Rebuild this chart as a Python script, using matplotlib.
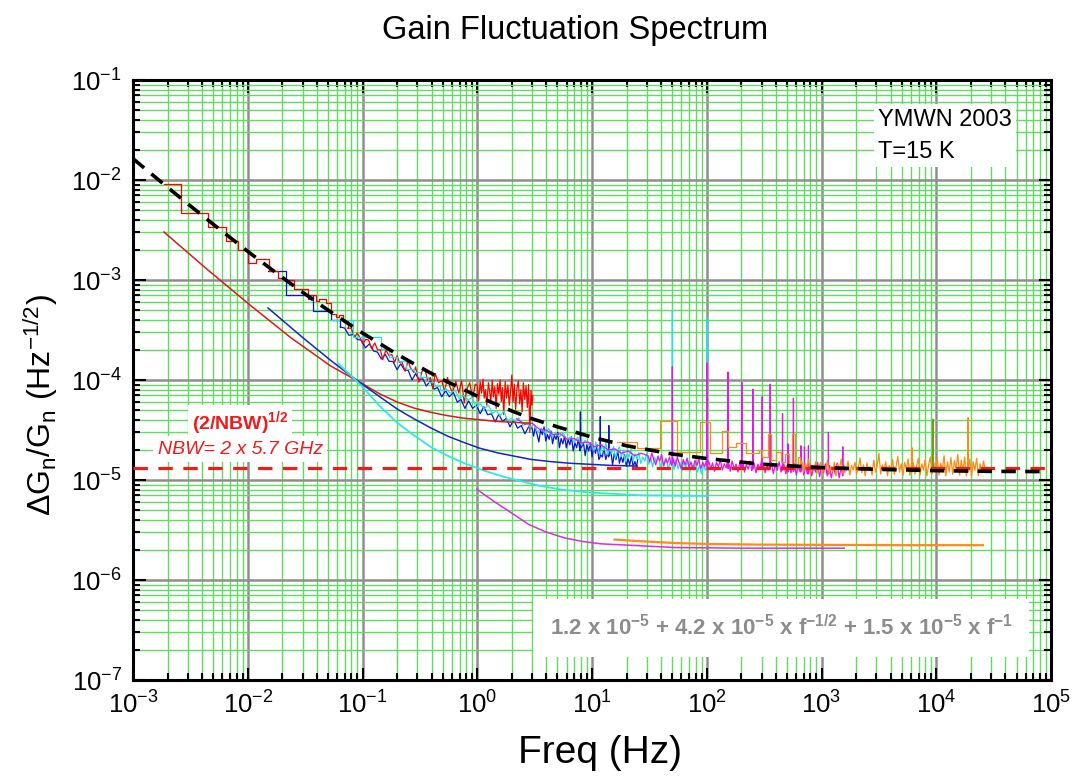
import numpy as np
import matplotlib
matplotlib.use("Agg")
import matplotlib.pyplot as plt
from matplotlib.ticker import LogLocator, NullFormatter

plt.rcParams['font.family'] = ['Liberation Sans', 'DejaVu Sans']
plt.rcParams['mathtext.fontset'] = 'custom'
plt.rcParams['mathtext.rm'] = 'Liberation Sans'
plt.rcParams['mathtext.it'] = 'Liberation Sans:italic'
plt.rcParams['mathtext.bf'] = 'Liberation Sans:bold'
plt.rcParams['mathtext.default'] = 'regular'
plt.rcParams['axes.unicode_minus'] = False

# ---- measured spectra: (frequency Hz, dG/G Hz^-1/2) ----
# low-frequency bins are drawn as steps, the rest as a plain noisy line
red_steps = [(1.87e-3, 9.1e-3), (2.62e-3, 4.68e-3), (4.51e-3, 3.39e-3), (6.48e-3, 2.45e-3),
             (8.25e-3, 2.0e-3), (1.01e-2, 1.48e-3), (1.18e-2, 1.62e-3), (1.54e-2, 1.23e-3),
             (1.84e-2, 1.05e-3), (0.0215, 1.0e-3), (0.0252, 8.2e-4), (0.0333, 6.5e-4),
             (0.0354, 7.1e-4), (0.0391, 6.2e-4), (0.0415, 6.4e-4), (0.0478, 5.9e-4),
             (0.0528, 4.6e-4), (0.0584, 4.3e-4), (0.0621, 4.5e-4), (0.0673, 3.9e-4)]
red_noise = [(0.074, 3.3e-4), (0.08, 3.3e-4), (0.085, 2.65e-4), (0.09, 2.95e-4), (0.096, 2.6e-4),
             (0.10, 2.3e-4), (0.107, 2.55e-4), (0.113, 2.5e-4), (0.12, 2.05e-4), (0.128, 2.35e-4),
             (0.135, 2.0e-4), (0.143, 2.0e-4), (0.15, 1.6e-4), (0.16, 2.0e-4), (0.17, 1.75e-4),
             (0.18, 1.8e-4), (0.19, 1.5e-4), (0.2, 1.75e-4), (0.21, 1.5e-4), (0.22, 1.53e-4),
             (0.235, 1.22e-4), (0.25, 1.56e-4), (0.26, 1.34e-4), (0.28, 1.19e-4), (0.29, 1.35e-4),
             (0.31, 9.5e-5), (0.33, 1.22e-4), (0.35, 1.28e-4), (0.37, 9.8e-5), (0.39, 1.06e-4),
             (0.41, 8.2e-5), (0.43, 1.16e-4), (0.46, 9.4e-5), (0.49, 9.8e-5), (0.52, 7.7e-5),
             (0.55, 1.06e-4), (0.58, 8.4e-5), (0.61, 7.5e-5), (0.65, 9.7e-5), (0.69, 7.4e-5),
             (0.73, 9.8e-5), (0.77, 5.9e-5), (0.81, 8.1e-5), (0.86, 9.4e-5), (0.91, 6.5e-5),
             (0.96, 9.1e-5), (1.0, 8.8e-5), (1.03, 6.2e-5), (1.06, 9.6e-5), (1.09, 7.4e-5),
             (1.12, 1.02e-4), (1.15, 6.6e-5), (1.18, 8.0e-5), (1.21, 5.6e-5), (1.25, 9.4e-5),
             (1.28, 7.8e-5), (1.31, 6.0e-5), (1.35, 9.9e-5), (1.38, 6.8e-5), (1.42, 8.6e-5),
             (1.46, 5.2e-5), (1.5, 9.2e-5), (1.54, 7.2e-5), (1.58, 1.0e-4), (1.62, 6.1e-5),
             (1.66, 8.4e-5), (1.7, 4.5e-5), (1.75, 9.6e-5), (1.8, 6.6e-5), (1.85, 8.9e-5),
             (1.9, 5.6e-5), (1.95, 7.6e-5), (2.0, 1.12e-4), (2.05, 6.0e-5), (2.1, 9.1e-5),
             (2.16, 5.1e-5), (2.22, 8.4e-5), (2.28, 9.8e-5), (2.34, 5.8e-5), (2.4, 8.0e-5),
             (2.46, 4.8e-5), (2.52, 9.4e-5), (2.59, 6.4e-5), (2.66, 8.7e-5), (2.73, 5.3e-5),
             (2.8, 9.0e-5), (2.87, 3.0e-5), (2.94, 7.9e-5), (3.0, 5.6e-5), (3.05, 7.0e-5)]

blue_steps = [(0.0150, 1.23e-3), (0.0215, 7.1e-4), (0.0369, 4.9e-4), (0.0528, 4.0e-4)]
blue_noise = [(0.064, 3.4e-4), (0.07, 3.3e-4), (0.076, 2.8e-4), (0.083, 2.85e-4), (0.09, 2.55e-4),
              (0.098, 2.5e-4), (0.106, 2.1e-4), (0.115, 2.3e-4), (0.125, 1.95e-4), (0.135, 1.9e-4),
              (0.146, 1.62e-4), (0.158, 1.8e-4), (0.17, 1.54e-4), (0.184, 1.53e-4), (0.2, 1.27e-4),
              (0.215, 1.45e-4), (0.232, 1.26e-4), (0.25, 1.25e-4), (0.27, 1.0e-4), (0.29, 1.16e-4),
              (0.31, 1.0e-4), (0.335, 1.03e-4), (0.36, 8.7e-5), (0.39, 9.8e-5), (0.42, 8.1e-5),
              (0.45, 8.4e-5), (0.49, 6.8e-5), (0.53, 7.8e-5), (0.57, 6.8e-5), (0.62, 7.5e-5),
              (0.67, 6.0e-5), (0.72, 6.4e-5), (0.78, 5.2e-5), (0.84, 6.2e-5), (0.91, 5.2e-5),
              (0.98, 5.6e-5), (1.06, 4.6e-5), (1.14, 5.4e-5), (1.23, 4.5e-5), (1.33, 4.6e-5),
              (1.43, 3.8e-5), (1.54, 4.55e-5), (1.66, 3.85e-5), (1.79, 4.15e-5), (1.93, 3.4e-5),
              (2.08, 4.0e-5), (2.24, 3.3e-5), (2.42, 3.5e-5), (2.6, 2.9e-5), (2.8, 3.4e-5),
              (3.0, 3.3e-5), (3.1, 2.75e-5), (3.2, 3.4e-5), (3.32, 2.85e-5), (3.44, 2.4e-5),
              (3.56, 3.15e-5), (3.69, 2.85e-5), (3.82, 3.4e-5), (3.95, 2.45e-5), (4.09, 2.85e-5),
              (4.23, 2.55e-5), (4.38, 3.1e-5), (4.53, 2.3e-5), (4.69, 2.8e-5), (4.86, 2.55e-5),
              (5.03, 3.0e-5), (5.2, 2.1e-5), (5.38, 2.6e-5), (5.57, 2.3e-5), (5.77, 2.75e-5),
              (5.97, 2.1e-5), (6.18, 2.55e-5), (6.4, 2.25e-5), (6.62, 2.7e-5), (6.85, 1.95e-5),
              (7.09, 2.35e-5), (7.34, 2.1e-5), (7.6, 2.55e-5), (7.86, 1.95e-5), (7.89, 2.0e-5),
              (7.92, 4.8e-5), (7.95, 2.1e-5), (8.14, 2.15e-5), (8.42, 2.35e-5), (8.72, 1.75e-5),
              (9.02, 2.25e-5), (9.34, 1.95e-5), (9.67, 2.35e-5), (10.0, 1.7e-5), (10.35, 2.15e-5),
              (10.71, 1.85e-5), (11.08, 2.25e-5), (11.47, 1.6e-5), (11.77, 1.7e-5), (11.8, 4.3e-5),
              (11.83, 1.8e-5), (12.29, 1.7e-5), (12.72, 2.1e-5), (13.16, 1.6e-5), (13.62, 1.85e-5),
              (13.97, 1.7e-5), (14.0, 3.5e-5), (14.03, 1.75e-5), (14.59, 1.95e-5), (15.1, 1.42e-5),
              (15.63, 1.85e-5), (16.18, 1.6e-5), (16.75, 1.95e-5), (17.33, 1.47e-5),
              (17.94, 1.72e-5), (18.57, 1.5e-5), (19.22, 1.8e-5), (19.89, 1.37e-5),
              (20.59, 1.63e-5), (21.31, 1.42e-5), (22.05, 1.73e-5), (22.82, 1.36e-5),
              (23.62, 1.53e-5), (24.45, 1.36e-5), (25.0, 1.6e-5)]

cyan_steps = [(0.053, 4.0e-4), (0.082, 2.7e-4), (0.145, 2.05e-4), (0.17, 1.7e-4), (0.2, 1.55e-4),
              (0.24, 1.3e-4), (0.28, 1.2e-4), (0.32, 1.08e-4), (0.37, 9.6e-5), (0.42, 8.8e-5),
              (0.47, 8.0e-5)]
cyan_noise = [(0.52, 8.4e-5), (0.58, 7.4e-5), (0.64, 7.9e-5), (0.70, 6.5e-5), (0.76, 7.0e-5),
              (0.83, 6.3e-5), (0.9, 6.7e-5), (0.98, 5.3e-5), (1.06, 5.8e-5), (1.15, 5.15e-5),
              (1.25, 5.6e-5), (1.35, 4.65e-5), (1.46, 4.95e-5), (1.58, 4.4e-5), (1.7, 4.9e-5),
              (1.84, 3.9e-5), (1.98, 4.15e-5), (2.14, 3.85e-5), (2.3, 4.2e-5), (2.5, 3.5e-5),
              (2.7, 3.75e-5), (2.9, 3.35e-5), (3.1, 3.65e-5), (3.35, 3.0e-5), (3.6, 3.3e-5),
              (3.9, 2.98e-5), (4.2, 3.27e-5), (4.5, 2.7e-5), (4.85, 2.98e-5), (5.2, 2.7e-5),
              (5.6, 2.97e-5), (6.0, 2.5e-5), (6.5, 2.7e-5), (7.0, 2.4e-5), (7.5, 2.68e-5),
              (8.1, 2.23e-5), (8.7, 2.5e-5), (9.4, 2.2e-5), (10.0, 2.3e-5), (10.4, 1.97e-5),
              (10.8, 2.4e-5), (11.2, 2.07e-5), (11.7, 1.8e-5), (12.2, 2.23e-5), (12.7, 1.96e-5),
              (13.2, 2.36e-5), (13.7, 1.78e-5), (14.2, 2.06e-5), (14.8, 1.84e-5), (15.4, 2.15e-5),
              (16.0, 1.66e-5), (16.6, 1.93e-5), (17.3, 2.15e-5), (18.0, 1.71e-5), (18.7, 1.97e-5),
              (19.5, 1.53e-5), (20.2, 1.85e-5), (21.0, 1.7e-5), (21.9, 2.04e-5), (22.8, 1.55e-5),
              (23.7, 1.84e-5), (24.6, 1.61e-5), (25.6, 1.89e-5), (26.6, 1.46e-5), (27.7, 1.7e-5),
              (28.8, 1.54e-5), (30.0, 1.86e-5), (31.2, 1.44e-5), (32.4, 1.68e-5), (33.7, 1.35e-5),
              (35.0, 1.7e-5), (36.4, 1.49e-5), (37.9, 1.75e-5), (39.4, 1.35e-5), (41.0, 1.53e-5),
              (42.6, 1.41e-5), (44.3, 1.66e-5), (46.1, 1.27e-5), (47.9, 1.52e-5), (49.8, 1.39e-5),
              (50.1, 5.0e-4), (50.4, 1.46e-5), (51.8, 1.27e-5), (53.9, 1.62e-5), (56.1, 1.29e-5),
              (58.3, 1.5e-5), (60.6, 1.24e-5), (63.1, 1.52e-5), (65.6, 1.33e-5), (68.2, 1.56e-5),
              (70.9, 1.2e-5), (73.8, 1.4e-5), (76.7, 1.26e-5), (79.8, 1.48e-5), (83.0, 1.2e-5),
              (86.3, 1.4e-5), (89.8, 1.16e-5), (93.4, 1.42e-5), (97.1, 1.25e-5), (99.7, 1.35e-5),
              (100.0, 4.2e-4), (100.3, 1.28e-5), (102, 1.4e-5)]

magenta_noise = [(2.2, 4.1e-5), (2.6, 3.6e-5), (3.0, 3.7e-5), (3.5, 3.2e-5), (4.0, 3.15e-5),
                 (4.6, 2.85e-5), (5.3, 2.9e-5), (6.1, 2.55e-5), (7.0, 2.6e-5), (8.0, 2.35e-5),
                 (9.2, 2.4e-5), (10.5, 2.15e-5), (12, 2.25e-5), (13.8, 2.0e-5), (15.8, 2.05e-5),
                 (18, 1.85e-5), (20.6, 1.95e-5), (23.5, 1.75e-5), (26.9, 1.85e-5),
                 (30.7, 1.75e-5), (31.9, 1.52e-5), (33.2, 1.86e-5), (34.5, 1.6e-5), (35.9, 1.42e-5),
                 (37.4, 1.72e-5), (38.9, 1.55e-5), (40.4, 1.8e-5), (42.0, 1.38e-5), (43.7, 1.62e-5),
                 (45.5, 1.48e-5), (47.3, 1.7e-5), (49.2, 1.4e-5), (49.9, 1.5e-5), (50.1, 1.36e-4),
                 (50.3, 1.45e-5), (51.2, 1.62e-5), (53.2, 1.38e-5), (55.4, 1.7e-5), (57.6, 1.46e-5),
                 (59.9, 1.3e-5), (62.3, 1.6e-5), (64.8, 1.42e-5), (67.4, 1.66e-5), (70.1, 1.34e-5),
                 (72.9, 1.52e-5), (75.8, 1.28e-5), (78.8, 1.58e-5), (82.0, 1.4e-5), (85.2, 1.62e-5),
                 (88.6, 1.3e-5), (92.2, 1.5e-5), (95.9, 1.36e-5), (98.8, 1.55e-5), (99.7, 1.4e-5),
                 (100.0, 1.48e-4), (100.3, 1.35e-5), (103.7, 1.56e-5), (107.9, 1.3e-5),
                 (112.2, 1.48e-5), (116.7, 1.22e-5), (121.3, 1.5e-5), (126.2, 1.36e-5),
                 (131.2, 1.58e-5), (136.5, 1.26e-5), (141.9, 1.45e-5), (147.6, 1.32e-5),
                 (151, 1.52e-5), (152.5, 1.35e-5), (153, 1.2e-4), (153.5, 1.3e-5), (156, 1.46e-5),
                 (160, 1.22e-5), (166, 1.55e-5), (173, 1.3e-5), (180, 1.44e-5), (187, 1.2e-5),
                 (194, 1.5e-5), (199, 1.34e-5), (201.5, 1.4e-5), (202, 9.5e-5), (202.5, 1.3e-5),
                 (206, 1.52e-5), (213, 1.2e-5), (221, 1.42e-5), (230, 1.28e-5), (239, 1.55e-5),
                 (247, 1.24e-5), (251.5, 1.36e-5), (252, 8.1e-5), (252.5, 1.3e-5), (258, 1.48e-5),
                 (268, 1.18e-5), (279, 1.44e-5), (290, 1.3e-5), (300, 1.56e-5), (303.5, 1.35e-5),
                 (304, 6.8e-5), (304.5, 1.28e-5), (310, 1.45e-5), (322, 1.18e-5), (335, 1.4e-5),
                 (348, 1.26e-5), (356.5, 1.38e-5), (357, 9.1e-5), (357.5, 1.3e-5), (365, 1.5e-5),
                 (380, 1.16e-5), (395, 1.42e-5), (411, 1.25e-5), (427, 1.52e-5), (444, 1.2e-5),
                 (452, 1.38e-5), (456.5, 1.3e-5), (457, 4.6e-5), (457.5, 1.25e-5), (470, 1.45e-5),
                 (489, 1.15e-5), (502, 1.4e-5), (508.5, 1.3e-5), (509, 2.3e-5), (509.5, 1.2e-5),
                 (520, 1.48e-5), (541, 1.18e-5), (560, 1.4e-5), (568.5, 1.3e-5), (569, 6.6e-5),
                 (569.5, 1.22e-5), (580, 1.45e-5), (603, 1.12e-5), (627, 1.38e-5), (646, 1.22e-5),
                 (660.5, 1.35e-5), (661, 2.2e-5), (661.5, 1.2e-5), (680, 1.45e-5), (700, 1.12e-5),
                 (709.5, 1.3e-5), (710, 2.15e-5), (710.5, 1.2e-5), (730, 1.42e-5), (750, 1.15e-5),
                 (768.5, 1.3e-5), (769, 2.2e-5), (769.5, 1.15e-5), (790, 1.45e-5), (822, 1.1e-5),
                 (855, 1.38e-5), (889, 1.2e-5), (924, 1.5e-5), (961, 1.08e-5), (1000, 1.36e-5),
                 (1040, 1.18e-5), (1082, 1.45e-5), (1120, 1.1e-5), (1147.5, 1.3e-5),
                 (1148, 3.0e-5), (1148.5, 1.15e-5), (1170, 1.4e-5), (1217, 1.05e-5),
                 (1266, 1.35e-5), (1316, 1.15e-5), (1369, 1.48e-5), (1424, 1.05e-5),
                 (1481, 1.35e-5), (1520, 1.15e-5), (1530.5, 1.3e-5), (1531, 2.15e-5),
                 (1531.5, 1.1e-5), (1560, 1.4e-5), (1600, 1.2e-5)]

orange_steps = [(16.4, 2.4e-5), (24.7, 2.09e-5), (39.4, 3.89e-5), (55.3, 1.91e-5), (87.7, 3.8e-5),
                (107, 1.86e-5), (137, 3.09e-5), (154, 2.14e-5), (178, 2.34e-5), (218, 1.86e-5),
                (283, 2.0e-5), (300, 1.7e-5), (340, 2.9e-5), (365, 1.6e-5), (400, 1.9e-5),
                (440, 1.5e-5), (480, 1.8e-5), (520, 1.4e-5), (555, 2.9e-5), (585, 1.45e-5),
                (620, 1.7e-5)]
orange_noise = [(650, 1.38e-5), (673, 1.55e-5), (696, 1.2e-5), (721, 1.46e-5), (746, 1.3e-5),
                (772, 1.62e-5), (799, 1.15e-5), (827, 1.4e-5), (856, 1.25e-5), (886, 1.52e-5),
                (917, 1.18e-5), (949, 1.35e-5), (982, 1.5e-5), (1016, 1.12e-5), (1052, 1.42e-5),
                (1089, 1.28e-5), (1127, 1.58e-5), (1166, 1.16e-5), (1207, 1.36e-5),
                (1249, 1.22e-5), (1293, 1.5e-5), (1338, 1.1e-5), (1385, 1.44e-5), (1434, 1.3e-5),
                (1484, 1.62e-5), (1536, 1.14e-5), (1590, 1.38e-5), (1645, 1.24e-5),
                (1703, 1.55e-5), (1762, 1.12e-5), (1824, 1.4e-5), (1888, 1.26e-5), (1954, 1.5e-5),
                (2022, 1.15e-5), (2093, 1.34e-5), (2166, 1.66e-5), (2242, 1.18e-5),
                (2321, 1.42e-5), (2402, 1.1e-5), (2486, 1.48e-5), (2573, 1.25e-5),
                (2663, 1.36e-5), (2756, 1.12e-5), (2853, 1.58e-5), (2953, 1.2e-5),
                (3056, 1.38e-5), (3163, 1.85e-5), (3274, 1.15e-5), (3388, 1.42e-5),
                (3507, 1.26e-5), (3630, 1.52e-5), (3757, 1.1e-5), (3888, 1.4e-5), (4024, 1.22e-5),
                (4165, 1.6e-5), (4311, 1.14e-5), (4462, 1.36e-5), (4618, 1.72e-5), (4780, 1.2e-5),
                (4947, 1.45e-5), (5120, 1.1e-5), (5299, 1.5e-5), (5485, 1.28e-5), (5677, 1.62e-5),
                (5875, 1.12e-5), (6081, 1.42e-5), (6140, 1.3e-5), (6150, 2.1e-5), (6160, 1.2e-5),
                (6294, 1.5e-5), (6514, 1.15e-5), (6742, 1.38e-5), (6978, 1.65e-5),
                (7222, 1.12e-5), (7475, 1.45e-5), (7737, 1.25e-5), (8008, 1.6e-5), (8288, 1.1e-5),
                (8578, 1.42e-5), (8878, 1.7e-5), (9189, 1.15e-5), (9511, 1.5e-5), (9844, 1.22e-5),
                (10188, 1.66e-5), (10545, 1.12e-5), (10914, 1.48e-5), (11296, 1.28e-5),
                (11691, 1.75e-5), (12100, 1.1e-5), (12524, 1.52e-5), (12962, 1.2e-5),
                (13416, 1.68e-5), (13886, 1.14e-5), (14372, 1.56e-5), (14875, 1.3e-5),
                (15395, 1.8e-5), (15934, 1.12e-5), (16492, 1.58e-5), (17069, 1.24e-5),
                (17667, 1.7e-5), (18285, 1.1e-5), (18870, 1.45e-5), (18900, 4.2e-5),
                (18930, 1.2e-5), (19587, 1.62e-5), (20272, 1.08e-5), (20982, 1.52e-5),
                (21716, 1.25e-5), (22476, 1.65e-5), (23263, 1.1e-5), (24077, 1.45e-5),
                (24920, 1.2e-5), (25792, 1.55e-5), (26500, 1.3e-5)]

olive_spike = [(9300, 1.3e-5), (9350, 4.07e-5), (9400, 1.3e-5)]

# ---- noise model curves ----
red_model_f = [1.86e-3, 4.49e-3, 1.06e-2, 2.37e-2, 3.5e-2, 5.28e-2, 9.64e-2, 0.14, 0.202, 0.28,
               0.393, 0.55, 0.760, 1.50, 2.91]
red_model_v = [3.02e-3, 1.26e-3, 5.55e-4, 2.65e-4, 1.93e-4, 1.38e-4, 9.4e-5, 7.3e-5, 6.0e-5,
               5.25e-5, 4.75e-5, 4.4e-5, 4.15e-5, 3.85e-5, 3.7e-5]
blue_model_f = [0.0150, 0.0308, 0.0528, 0.0964, 0.14, 0.202, 0.28, 0.393, 0.55, 0.760, 1.05,
                1.50, 2.91, 4.3, 6.49, 14.5, 24.8]
blue_model_v = [5.25e-4, 2.6e-4, 1.57e-4, 9.3e-5, 6.85e-5, 5.1e-5, 4.1e-5, 3.32e-5, 2.75e-5,
                2.38e-5, 2.08e-5, 1.87e-5, 1.61e-5, 1.53e-5, 1.47e-5, 1.40e-5, 1.38e-5]
cyan_model_f = [0.0608, 0.0964, 0.144, 0.202, 0.28, 0.393, 0.55, 0.760, 1.2, 1.74, 3.46, 5.5,
                9.68, 27.2, 100.4]
cyan_model_v = [1.48e-4, 8.91e-5, 5.37e-5, 3.72e-5, 2.8e-5, 2.14e-5, 1.75e-5, 1.48e-5, 1.22e-5,
                1.07e-5, 8.77e-6, 8.0e-6, 7.48e-6, 7.03e-6, 6.92e-6]
magenta_model_f = [0.990, 1.4, 2.00, 2.8, 3.97, 5.8, 8.45, 12, 19.3, 54.1, 214, 1574]
magenta_model_v = [8.09e-6, 6.1e-6, 4.66e-6, 3.6e-6, 3.02e-6, 2.63e-6, 2.42e-6, 2.3e-6, 2.24e-6,
                   2.11e-6, 2.08e-6, 2.08e-6]
orange_model_f = [15.7, 25, 54.1, 110, 282, 5420, 25460]
orange_model_v = [2.54e-6, 2.45e-6, 2.34e-6, 2.29e-6, 2.26e-6, 2.23e-6, 2.23e-6]

# fitted line 1.2e-5 + 4.2e-5 f^-1/2 + 1.5e-5 f^-1
fit_f = [1e-3, 2e-3, 3e-3, 5e-3, 1e-2, 2e-2, 3e-2, 5e-2, 0.1, 0.2, 0.3, 0.5, 1, 2, 3, 5, 10, 20,
         30, 50, 100, 300, 1000, 3000, 1e4, 3e4, 9e4]
fit_v = [1.634e-2, 8.45e-3, 5.78e-3, 3.61e-3, 1.932e-3, 1.06e-3, 7.55e-4, 5.0e-4, 2.95e-4,
         1.81e-4, 1.39e-4, 1.01e-4, 6.9e-5, 4.9e-5, 4.1e-5, 3.4e-5, 2.68e-5, 2.2e-5, 2.02e-5,
         1.82e-5, 1.64e-5, 1.44e-5, 1.33e-5, 1.28e-5, 1.24e-5, 1.22e-5, 1.214e-5]

nbw_level = 1.32e-5   # (2/NBW)^1/2, NBW = 2 x 5.7 GHz

x_ticks = [1e-3, 1e-2, 1e-1, 1e0, 1e1, 1e2, 1e3, 1e4, 1e5]
y_ticks = [1e-7, 1e-6, 1e-5, 1e-4, 1e-3, 1e-2, 1e-1]

fig = plt.figure(figsize=(10.78, 7.76), dpi=100)
ax = fig.add_axes([0.1234, 0.1237, 0.8516, 0.7732])
ax.set_xscale('log')
ax.set_yscale('log')
ax.set_xticks(x_ticks)
ax.set_yticks(y_ticks)
for axis in (ax.xaxis, ax.yaxis):
    axis.set_minor_locator(LogLocator(base=10, subs=np.arange(2, 10), numticks=200))
    axis.set_minor_formatter(NullFormatter())
ax.set_xlim(1e-3, 1e5)
ax.set_ylim(1e-7, 1e-1)

ax.set_axisbelow(True)
ax.grid(which='minor', color='#5edc5e', lw=1.0)
ax.grid(which='major', color='#8e8e8e', lw=1.8)

ax.tick_params(which='both', direction='in', top=True, right=True, width=1.5, labelsize=18.5)
ax.tick_params(which='major', length=9, pad=8)
ax.tick_params(which='minor', length=5)
for sp in ax.spines.values():
    sp.set_linewidth(2.2)


def plot_trace(steps, noise, color, z):
    if steps:
        f, v = zip(*(steps + noise[:1]))
        ax.plot(f, v, color=color, lw=0.9, drawstyle='steps-post', zorder=z)
    f, v = zip(*noise)
    ax.plot(f, v, color=color, lw=0.9, zorder=z)


plot_trace(blue_steps, blue_noise, '#0a14d8', 2.0)
plot_trace(red_steps, red_noise, '#ff0000', 2.1)
plot_trace(cyan_steps, cyan_noise, '#1ee3ee', 2.2)
plot_trace([], magenta_noise, '#ee10ee', 2.3)
plot_trace(orange_steps, orange_noise, '#ff8c10', 2.4)
plot_trace([], olive_spike, '#7a9a10', 2.5)

# model curves
ax.plot(red_model_f, red_model_v, color='#e01818', lw=1.1, zorder=2.6)
ax.plot(blue_model_f, blue_model_v, color='#1a22c8', lw=1.1, zorder=2.6)
ax.plot(cyan_model_f, cyan_model_v, color='#30e6ea', lw=1.3, zorder=2.6)
ax.plot(magenta_model_f, magenta_model_v, color='#e02ae0', lw=1.1, zorder=2.6)
ax.plot(orange_model_f, orange_model_v, color='#ff8c10', lw=1.6, zorder=2.6)

ax.axhline(nbw_level, color='#ee1c1c', lw=2.3, dashes=(4.5, 3.3), zorder=4)
ax.plot(fit_f, fit_v, color='black', lw=2.6, dashes=(4, 2.6), zorder=5)

# labels
fig.text(0.5334, 0.961, 'Gain Fluctuation Spectrum', ha='center', va='center', fontsize=23.5)
ax.set_xlabel('Freq (Hz)', fontsize=28)
ax.xaxis.set_label_coords(0.509, -0.092)
ax.set_ylabel('ΔG$_n$/G$_n$ (Hz$^{-1/2}$)', fontsize=23)
ax.yaxis.set_label_coords(-0.08, 0.458)

white = dict(facecolor='white', edgecolor='none', pad=3)
ax.text(0.812, 0.907, 'YMWN 2003\nT=15 K', transform=ax.transAxes, fontsize=17,
        ha='left', va='center', linespacing=1.6, bbox=white, zorder=6)
ax.text(0.1166, 0.428, r'$\mathbf{(2/NBW)}^{\mathbf{1/2}}$', transform=ax.transAxes,
        fontsize=14, color='#ee1c1c', ha='center', va='center', bbox=white, zorder=6)
ax.text(0.1166, 0.385, 'NBW= 2 x 5.7 GHz', transform=ax.transAxes, fontsize=14,
        color='#ee1c1c', style='italic', ha='center', va='center', bbox=white, zorder=6)
ax.text(0.706, 0.0867,
        r'1.2 x 10$^{\mathbf{-5}}$ + 4.2 x 10$^{\mathbf{-5}}$ x f$^{\mathbf{-1/2}}$'
        r' + 1.5 x 10$^{\mathbf{-5}}$ x f$^{\mathbf{-1}}$',
        transform=ax.transAxes, fontsize=16, fontweight='bold', color='#8c8c8c',
        ha='center', va='center',
        bbox=dict(facecolor='white', edgecolor='none', boxstyle='square,pad=0.75'), zorder=6)

fig.savefig('out.png', dpi=100)
